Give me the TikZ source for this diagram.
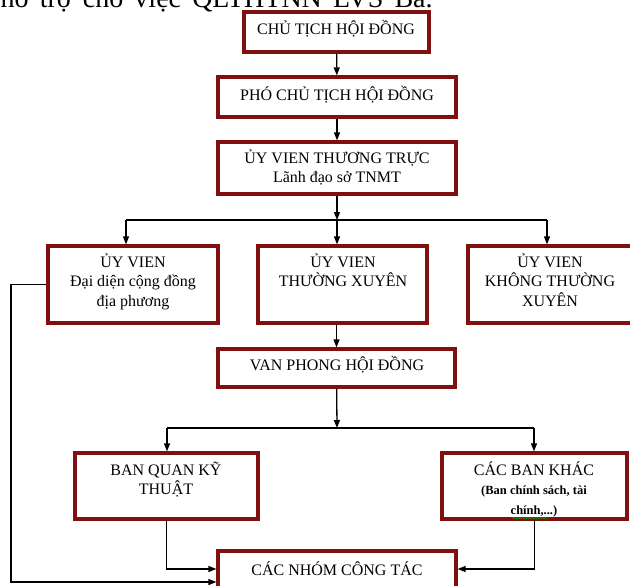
\documentclass[tikz,border=0pt]{standalone}
\usepackage{fontspec}
\setmainfont{Liberation Serif}
\usetikzlibrary{arrows.meta,decorations.pathmorphing}
\definecolor{boxred}{RGB}{128,16,16}
\newcommand{\subfnt}{\bfseries\fontsize{12.5}{15}\selectfont}

\begin{document}
\begin{tikzpicture}[x=1pt, y=-1pt, line width=1.3pt, >={Triangle[length=8pt,width=6pt]},
  box/.style={draw=boxred, line width=3.2pt, inner sep=0pt},
  txt/.style={anchor=base, align=center, inner sep=0pt, font=\fontsize{16}{19.5}\selectfont}]
\path[use as bounding box, clip] (0,0) rectangle (630,586);
\node[anchor=base west, inner sep=0pt, font=\fontsize{28}{32}\selectfont] (head) at (0,8)
  {\makebox[432pt][s]{hỗ trợ cho việc QLTHTNN LVS Ba.}};
\node[box, minimum width=185pt, minimum height=40pt] (ct) at (336.5,32) {};
\node[box, minimum width=238pt, minimum height=40pt] (pct) at (337,97) {};
\node[box, minimum width=238pt, minimum height=52pt] (uvtt) at (337,168) {};
\node[box, minimum width=170pt, minimum height=77pt] (uvdd) at (133,284.5) {};
\node[box, minimum width=169pt, minimum height=77pt] (uvtx) at (342.5,284.5) {};
\node[box, minimum width=168pt, minimum height=77pt] (uvktx) at (552,284.5) {};
\node[box, minimum width=237pt, minimum height=38pt] (vp) at (336.5,368) {};
\node[box, minimum width=183pt, minimum height=66pt] (bqkt) at (166.5,486) {};
\node[box, minimum width=185pt, minimum height=66pt] (cbk) at (534.5,486) {};
\node[box, minimum width=238pt, minimum height=48pt] (nhom) at (337,575) {};
% base of a text = baseline of its last line
\node[txt] (ct-t) at (336,35) {CHỦ TỊCH HỘI ĐỒNG};
\node[txt] (pct-t) at (337,101) {PHÓ CHỦ TỊCH HỘI ĐỒNG};
\node[txt] (uvtt-t) at (337,182.5) {ỦY VIEN THƯƠNG TRỰC\\Lãnh đạo sở TNMT};
\node[txt] (uvdd-t) at (133,306) {ỦY VIEN\\Đại diện cộng đồng\\địa phương};
\node[txt] (uvtx-t) at (343,286.5) {ỦY VIEN\\THƯỜNG XUYÊN};
\node[txt] (uvktx-t) at (550,306) {ỦY VIEN\\KHÔNG THƯỜNG\\XUYÊN};
\node[txt] (vp-t) at (337,370) {VAN PHONG HỘI ĐỒNG};
\node[txt] (bqkt-t) at (166,494.5) {BAN QUAN KỸ\\THUẬT};
\node[txt] (cbk-t) at (534,514) {CÁC BAN KHÁC\\\subfnt (Ban chính sách, tài\\\subfnt chính,...)};
\node[txt] (nhom-t) at (337,575) {CÁC NHÓM CÔNG TÁC};
\coordinate (busl) at (126,220);
\coordinate (busm) at (337,220);
\coordinate (busr) at (547,220);
\coordinate (bus2l) at (167,428);
\coordinate (bus2m) at (337,428);
\coordinate (bus2r) at (534,428);
\coordinate (loop) at (11,582);
\draw[->] (ct) -- (pct);
\draw[->] (pct) -- (uvtt);
\draw[->] (uvtt) -- (busm);
\draw (busl) -- (busr);
\draw[->] (busl) -- (busl |- uvdd.north);
\draw[->] (busm) -- (busm |- uvtx.north);
\draw[->] (busr) -- (busr |- uvktx.north);
\draw[->] (uvtx.south -| vp.north) -- (vp.north);
\draw[->] (vp) -- (bus2m);
\draw (bus2l) -- (bus2r);
\draw[->] (bus2l) -- (bus2l |- bqkt.north);
\draw[->] (bus2r) -- (bus2r |- cbk.north);
\draw[->] (uvdd.west) -| (loop) -- (loop -| nhom.west);
\draw[->] (bqkt.south) |- (nhom.west |- 0,569);
\draw[->] (cbk.south) |- (nhom.east |- 0,569);
\draw[green!60!black, line width=0.6pt, decorate, decoration={snake, amplitude=0.7pt, segment length=2.5pt}]
  (512,518) -- (548,518);
\end{tikzpicture}
\end{document}
